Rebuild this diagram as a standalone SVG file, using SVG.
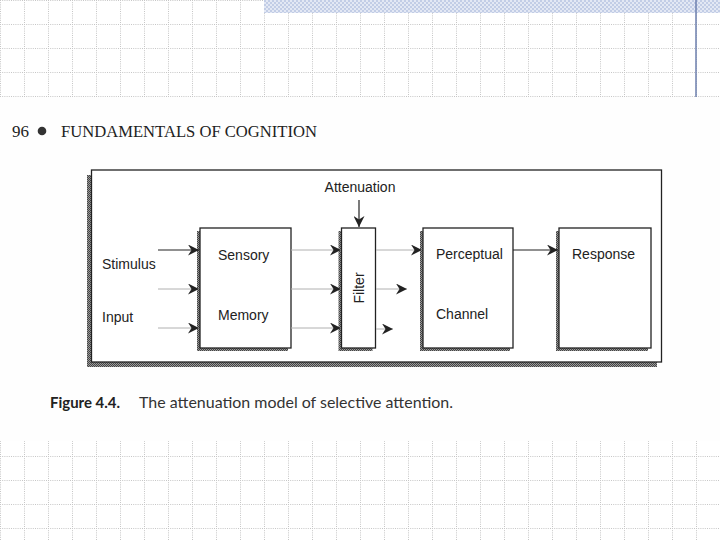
<svg xmlns="http://www.w3.org/2000/svg" width="720" height="540" viewBox="0 0 720 540">
  <style>
    .box { fill: #fff; stroke: #222; stroke-width: 1.3; }
    .shadow { fill: url(#hatch); }
    .lbl { font-family: "Liberation Sans", Arial, sans-serif; font-size: 14px; fill: #222; }
    .dark { stroke: #222; stroke-width: 1.2; fill: none; }
    .light { stroke: #b0b0b0; stroke-width: 1; fill: none; }
  </style>
  <defs>
    <pattern id="grid" patternUnits="userSpaceOnUse" width="24" height="24">
      <path d="M0.5 0V24M0 0.5H24" stroke="#c6c6c6" stroke-width="1" stroke-dasharray="1 1.2" fill="none"/>
    </pattern>
    <pattern id="checker" patternUnits="userSpaceOnUse" width="4" height="4">
      <rect width="4" height="4" fill="#e3e8f4"/>
      <rect width="2" height="2" fill="#c2cde6"/>
      <rect x="2" y="2" width="2" height="2" fill="#c2cde6"/>
    </pattern>
    <pattern id="hatch" patternUnits="userSpaceOnUse" width="2" height="2">
      <rect width="2" height="2" fill="#9a9a9a"/>
      <rect width="1" height="1" fill="#444"/>
      <rect x="1" y="1" width="1" height="1" fill="#444"/>
    </pattern>
    <linearGradient id="rule" x1="0" y1="0" x2="1" y2="0">
      <stop offset="0" stop-color="#aaa"/>
      <stop offset="0.15" stop-color="#444"/>
      <stop offset="0.5" stop-color="#777"/>
      <stop offset="1" stop-color="#c8c8c8"/>
    </linearGradient>
    <marker id="arr" markerWidth="12" markerHeight="11" refX="11" refY="5.5" orient="auto" markerUnits="userSpaceOnUse">
      <path d="M0,0 L11,5.5 L0,11 L3.5,5.5 z" fill="#222"/>
    </marker>
  </defs>

  <!-- background slide -->
  <rect width="720" height="540" fill="#fff"/>
  <rect width="720" height="540" fill="url(#grid)"/>
  <rect x="264" y="0" width="456" height="13" fill="url(#checker)"/>
  <line x1="696" y1="0" x2="696" y2="97" stroke="#6d7fae" stroke-width="1.5"/>

  <!-- scanned page -->
  <rect x="0" y="97" width="720" height="344" fill="#fefefe"/>

  <g id="header">
    <text x="12" y="137" font-family="Liberation Serif, 'Times New Roman', serif" font-size="17" fill="#222">96</text>
    <circle cx="42" cy="131" r="4.3" fill="#333"/>
    <text x="61" y="137" font-family="Liberation Serif, 'Times New Roman', serif" font-size="16.5" fill="#222" textLength="256" lengthAdjust="spacingAndGlyphs">FUNDAMENTALS OF COGNITION</text>
  </g>

  <!-- outer frame -->
  <g id="frame">
    <rect x="87" y="175" width="570" height="192" class="shadow"/>
    <rect x="91.5" y="170" width="570" height="192" class="box" stroke-width="1.2"/>
  </g>

  <g id="sensory">
    <rect x="197" y="231" width="91" height="120" class="shadow"/>
    <rect x="200" y="228" width="91" height="120" class="box"/>
    <text x="218" y="260" class="lbl">Sensory</text>
    <text x="218" y="320" class="lbl">Memory</text>
  </g>

  <g id="filter">
    <rect x="338.5" y="231" width="34" height="120" class="shadow"/>
    <rect x="341.5" y="228" width="34" height="120" class="box"/>
    <text transform="translate(364 288) rotate(-90)" text-anchor="middle" class="lbl">Filter</text>
  </g>

  <g id="perceptual">
    <rect x="420" y="231" width="90" height="120" class="shadow"/>
    <rect x="423" y="228" width="90" height="120" class="box"/>
    <text x="436" y="259" class="lbl">Perceptual</text>
    <text x="436" y="319" class="lbl">Channel</text>
  </g>

  <g id="response">
    <rect x="556" y="231" width="92" height="120" class="shadow"/>
    <rect x="559" y="228" width="92" height="120" class="box"/>
    <text x="572" y="259" class="lbl">Response</text>
  </g>

  <g id="labels">
    <text x="102" y="269" class="lbl">Stimulus</text>
    <text x="102" y="322" class="lbl">Input</text>
    <text x="360" y="192" text-anchor="middle" class="lbl">Attenuation</text>
  </g>

  <g id="connectors">
    <line x1="158" y1="250" x2="199" y2="250" class="dark" marker-end="url(#arr)"/>
    <line x1="158" y1="289" x2="199" y2="289" class="light" marker-end="url(#arr)"/>
    <line x1="158" y1="328" x2="199" y2="328" class="light" marker-end="url(#arr)"/>
    <line x1="291" y1="250" x2="341" y2="250" class="light" marker-end="url(#arr)"/>
    <line x1="291" y1="289" x2="341" y2="289" class="light" marker-end="url(#arr)"/>
    <line x1="291" y1="328" x2="341" y2="328" class="light" marker-end="url(#arr)"/>
    <line x1="359" y1="200" x2="359" y2="227" class="dark" marker-end="url(#arr)"/>
    <line x1="376" y1="250" x2="422" y2="250" class="light" marker-end="url(#arr)"/>
    <line x1="376" y1="289" x2="407" y2="289" class="light" marker-end="url(#arr)"/>
    <line x1="376" y1="329" x2="393" y2="329" class="light" marker-end="url(#arr)"/>
    <line x1="513" y1="250" x2="558" y2="250" class="dark" marker-end="url(#arr)"/>
  </g>

  <g id="caption">
    <line x1="46" y1="386" x2="697" y2="386" stroke="url(#rule)" stroke-width="1.2"/>
    <text x="50" y="408" font-family="Lato, 'Liberation Sans', sans-serif" font-size="15" font-weight="bold" fill="#222" textLength="70" lengthAdjust="spacingAndGlyphs">Figure 4.4.</text>
    <text x="139" y="408" font-family="Lato, 'Liberation Sans', sans-serif" font-size="15" fill="#333" textLength="314" lengthAdjust="spacingAndGlyphs">The attenuation model of selective attention.</text>
  </g>
</svg>
